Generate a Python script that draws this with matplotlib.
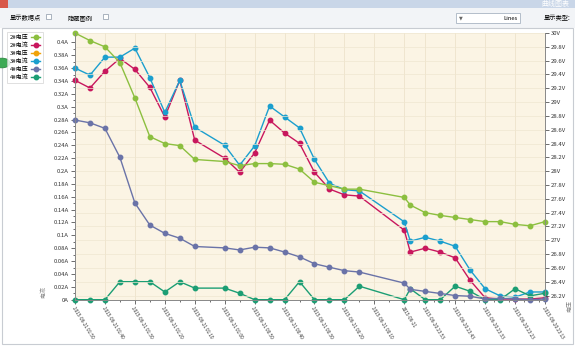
import matplotlib.pyplot as plt
import matplotlib.patches as patches
import numpy as np

plt.rcParams['font.family'] = ['Noto Sans CJK SC', 'DejaVu Sans']

# sample times, minutes after midnight (negative = previous evening)
minutes = [110, 105, 100, 95, 90, 85, 80, 75, 70, 60, 55, 50, 45, 40, 35,
           30, 25, 20, 15, 0, -2, -7, -12, -17, -22, -27, -32, -37, -42, -47]

volt_2 = [30.0, 29.89, 29.80, 29.57, 29.06, 28.50, 28.40, 28.37, 28.17, 28.14,
          28.08, 28.11, 28.11, 28.10, 28.03, 27.84, 27.79, 27.74, 27.74, 27.62,
          27.51, 27.40, 27.36, 27.33, 27.30, 27.27, 27.27, 27.23, 27.21, 27.27]
curr_2 = [0.341, 0.329, 0.355, 0.375, 0.358, 0.330, 0.284, 0.341, 0.248, 0.220,
          0.198, 0.228, 0.279, 0.259, 0.243, 0.198, 0.172, 0.163, 0.161, 0.108,
          0.074, 0.080, 0.074, 0.065, 0.030, 0.003, 0.001, 0.001, 0.001, 0.003]
curr_3 = [0.360, 0.349, 0.377, 0.377, 0.391, 0.345, 0.291, 0.341, 0.268, 0.240,
          0.209, 0.239, 0.301, 0.284, 0.267, 0.218, 0.181, 0.171, 0.169, 0.121,
          0.091, 0.097, 0.091, 0.083, 0.046, 0.017, 0.006, 0.004, 0.012, 0.012]
volt_4 = [28.74, 28.70, 28.62, 28.20, 27.54, 27.22, 27.10, 27.03, 26.91, 26.89,
          26.86, 26.90, 26.89, 26.83, 26.76, 26.66, 26.61, 26.56, 26.54, 26.38,
          26.29, 26.26, 26.23, 26.20, 26.19, 26.15, 26.16, 26.15, 26.14, 26.15]
curr_4 = [0.0, 0.0, 0.0, 0.028, 0.028, 0.028, 0.012, 0.028, 0.018, 0.018,
          0.010, 0.0, 0.0, 0.0, 0.028, 0.0, 0.0, 0.0, 0.021, 0.0,
          0.017, 0.0, 0.0, 0.021, 0.013, 0.0, 0.0, 0.017, 0.006, 0.010]
volt_3 = []

tick_minutes = [110, 100, 90, 80, 70, 60, 50, 40, 30, 20, 10, 0,
                -7, -17, -27, -37, -47]
tick_labels = ['2015-06-21 01:50', '2015-06-21 01:40', '2015-06-21 01:30',
               '2015-06-21 01:20', '2015-06-21 01:10', '2015-06-21 01:00',
               '2015-06-21 00:50', '2015-06-21 00:40', '2015-06-21 00:30',
               '2015-06-21 00:20', '2015-06-21 00:10', '2015-06-21',
               '2015-06-20 23:53', '2015-06-20 23:43', '2015-06-20 23:33',
               '2015-06-20 23:23', '2015-06-20 23:13']

series_names = ['2#电压', '2#电流', '3#电压', '3#电流', '4#电压', '4#电流']
colors = ['#8cbf3f', '#c8175d', '#f0a30a', '#1b9fce', '#6a73a8', '#1c9e74']

W, H = 575, 346
fig = plt.figure(figsize=(W / 100, H / 100), dpi=100)
fig.patch.set_facecolor('white')


def box(x, y, w, h, **kw):
    # rectangle in pixel coords measured from the top-left corner
    fig.patches.append(patches.Rectangle((x / W, 1 - (y + h) / H), w / W, h / H,
                                         transform=fig.transFigure, **kw))


# window title bar and tool strip
box(0, 0, W, 8, facecolor='#c9d6e8', edgecolor='none')
box(0, 8, W, 20, facecolor='#f2f4f7', edgecolor='none')
box(0, 0, 8, 8, facecolor='#d8584a', edgecolor='none')
fig.text(1 - 6 / W, 1 - 4 / H, '曲线图表', fontsize=5, color='white',
         ha='right', va='center')
fig.text(1 - 4 / W, 1 - 18 / H, '显示类型:', fontsize=4.5, ha='right', va='center')
box(456, 13, 64, 10, facecolor='white', edgecolor='#a9b4c2', linewidth=0.6)
fig.text(518 / W, 1 - 18 / H, 'Lines', fontsize=4.2, ha='right', va='center')
fig.text(459 / W, 1 - 18 / H, '▼', fontsize=3.5, color='#666666',
         family='DejaVu Sans', ha='left', va='center')
fig.text(10 / W, 1 - 18 / H, '显示数据点', fontsize=4.5, ha='left', va='center')
box(46, 14, 5, 5, facecolor='white', edgecolor='#8a96a6', linewidth=0.5)
fig.text(68 / W, 1 - 18 / H, '隐藏图例', fontsize=4.5, ha='left', va='center')
box(103, 14, 5, 5, facecolor='white', edgecolor='#8a96a6', linewidth=0.5)
box(2, 28, W - 4, H - 30, facecolor='none', edgecolor='#c8ccd2', linewidth=0.8)

# side toggle button
fig.patches.append(patches.Circle((2 / W, 1 - 63 / H), 8 / W,
                                  transform=fig.transFigure,
                                  facecolor='#3daa55', edgecolor='#2b8a40',
                                  linewidth=0.6))

ax = fig.add_axes([75 / W, 1 - 299.7 / H, 470 / W, 266.7 / H])
ax.set_facecolor('#fbf4e4')
ax2 = ax.twinx()

ax.set_xlim(max(minutes), min(minutes))
ax.set_ylim(0, 0.4145)
ax2.set_ylim(26.14, 30.0)

lines = {}
lines['2#电压'] = ax2.plot(minutes, volt_2, '-o', color=colors[0], lw=1, ms=3.2)[0]
lines['2#电流'] = ax.plot(minutes, curr_2, '-o', color=colors[1], lw=1, ms=3.2)[0]
lines['3#电压'] = ax2.plot(minutes[:len(volt_3)], volt_3, '-o', color=colors[2],
                           lw=1, ms=3.2)[0]
lines['3#电流'] = ax.plot(minutes, curr_3, '-o', color=colors[3], lw=1, ms=3.2)[0]
lines['4#电压'] = ax2.plot(minutes, volt_4, '-o', color=colors[4], lw=1, ms=3.2)[0]
lines['4#电流'] = ax.plot(minutes, curr_4, '-o', color=colors[5], lw=1, ms=3.2)[0]
for ln in lines.values():
    ln.set_clip_on(False)

ax.set_yticks(np.arange(0, 0.401, 0.02))
ax.set_yticklabels(['0A'] + ['%gA' % v for v in np.arange(0.02, 0.401, 0.02).round(2)])
ax.set_yticks(np.arange(0, 0.41, 0.01), minor=True)
ax2.set_yticks(np.arange(26.2, 30.01, 0.2))
ax2.set_yticklabels(['%gV' % v for v in np.arange(26.2, 30.01, 0.2).round(1)])
ax.set_xticks(tick_minutes)
ax.set_xticks(np.arange(-45, 111, 5), minor=True)

for a in (ax, ax2):
    a.tick_params(labelsize=4.3, length=3, width=0.5, colors='#333333', pad=1.5)
    a.tick_params(which='minor', length=1.5, width=0.4)
    for s in a.spines.values():
        s.set_color('#888888')
        s.set_linewidth(0.6)
ax.set_xticklabels(tick_labels, rotation=-58, ha='left', va='top',
                   rotation_mode='anchor', fontsize=3.4)
ax.spines['top'].set_visible(False)
ax2.spines['top'].set_visible(False)
ax.grid(True, axis='x', color='#eadfc6', lw=0.5)
ax2.grid(True, axis='y', color='#efe6d0', lw=0.5)

fig.text(43 / W, 1 - 292 / H, '电流', rotation=90, fontsize=4.3,
         color='#888888', ha='center', va='center')
fig.text(569 / W, 1 - 306 / H, '电压', rotation=90, fontsize=4.3,
         color='#888888', ha='center', va='center')

leg = fig.legend([lines[n] for n in series_names], series_names,
                 loc='upper left', bbox_to_anchor=(4 / W, 1 - 29 / H),
                 fontsize=4.3, markerfirst=False, handlelength=1.6,
                 labelspacing=0.42, borderpad=0.45, handletextpad=0.4,
                 frameon=True, fancybox=False, edgecolor='#c8c8c8')
leg.get_frame().set_linewidth(0.5)

fig.savefig('out.png', dpi=100)
